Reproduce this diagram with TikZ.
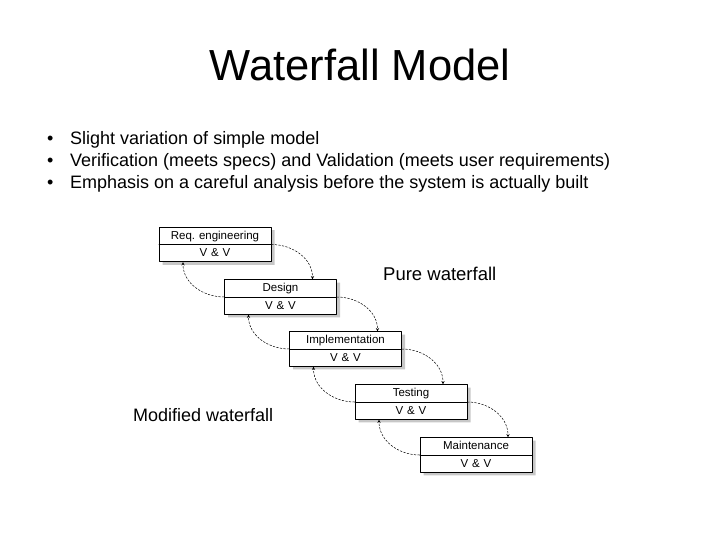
\documentclass[tikz,border=0pt]{standalone}
\usepackage{fontspec}
\setmainfont{Liberation Sans}
\usetikzlibrary{shapes.multipart,shadows}

% keeps both halves of a phase box the same height
\newcommand{\phasestrut}{\rule[-3pt]{0pt}{13pt}}

\begin{document}
\begin{tikzpicture}[>=stealth, x=1pt, y=1pt, line cap=round, line join=round,
    phase/.style={rectangle split, rectangle split parts=2, draw, line width=0.7pt,
      fill=white, text width=104pt, align=center, inner xsep=4pt, inner ysep=1.8pt,
      font=\fontsize{11.5}{13}\selectfont,
      drop shadow={shadow xshift=3.5pt, shadow yshift=-3pt, fill=black!22, opacity=1},
      anchor=text split},
    flow/.style={->, dash pattern=on 2pt off 1.6pt, line width=0.5pt},
    label/.style={anchor=base west, inner sep=0pt, font=\fontsize{18}{22}\selectfont}]
  \useasboundingbox (0,0) rectangle (720,540);

  % Title and points
  \node[anchor=base, font=\fontsize{43.5}{50}\selectfont] (title) at (360,459) {Waterfall Model};
  \node[label] (points) at (47,395) {%
    \begin{tabular}[t]{@{}l@{\hspace{16.7pt}}l@{}}
      \textbullet & Slight variation of simple model\\
      \textbullet & Verification (meets specs) and Validation (meets user requirements)\\
      \textbullet & Emphasis on a careful analysis before the system is actually built
    \end{tabular}};

  % Phases
  \node[phase] (req) at (215,295.5) {\phasestrut Req.\ engineering \nodepart{two} \phasestrut V \& V};
  \node[phase] (design) at (280.5,243) {\phasestrut Design \nodepart{two} \phasestrut V \& V};
  \node[phase] (impl) at (345.5,191) {\phasestrut Implementation \nodepart{two} \phasestrut V \& V};
  \node[phase] (test) at (411,138) {\phasestrut Testing \nodepart{two} \phasestrut V \& V};
  \node[phase] (maint) at (476,85) {\phasestrut Maintenance \nodepart{two} \phasestrut V \& V};

  % Pure waterfall, going down
  \draw[flow] (req.text split east) to[out=0, in=90] ([xshift=32pt]design.north);
  \draw[flow] (design.text split east) to[out=0, in=90] ([xshift=32pt]impl.north);
  \draw[flow] (impl.text split east) to[out=0, in=90] ([xshift=32pt]test.north);
  \draw[flow] (test.text split east) to[out=0, in=90] ([xshift=32pt]maint.north);

  % Modified waterfall, going back up
  \draw[flow] (design.text split west) to[out=180, in=-90] ([xshift=-32pt]req.south);
  \draw[flow] (impl.text split west) to[out=180, in=-90] ([xshift=-32pt]design.south);
  \draw[flow] (test.text split west) to[out=180, in=-90] ([xshift=-32pt]impl.south);
  \draw[flow] (maint.text split west) to[out=180, in=-90] ([xshift=-32pt]test.south);

  % Labels
  \node[label, font=\fontsize{18.5}{22}\selectfont] (pure) at (383,259) {Pure waterfall};
  \node[label] (modified) at (133,118) {Modified waterfall};
\end{tikzpicture}
\end{document}
